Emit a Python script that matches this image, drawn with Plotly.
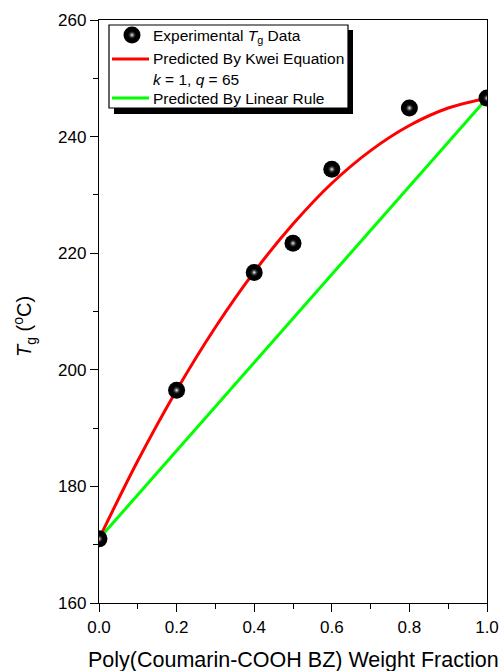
import plotly.graph_objects as go

# ---- data ----
exp_w = [0.0, 0.2, 0.4, 0.5, 0.6, 0.8, 1.0]
exp_tg = [171.0, 196.5, 216.7, 221.7, 234.4, 244.9, 246.6]

kwei_w = [0.0, 0.1, 0.2, 0.3, 0.4, 0.5, 0.6, 0.7, 0.8, 0.9, 1.0]
kwei_tg = [171.0, 184.4, 196.5, 207.3, 216.8, 225.0, 232.0, 237.6, 241.9, 244.9, 246.6]

lin_w = [0.0, 1.0]
lin_tg = [171.0, 246.6]

x_ticks = [0.0, 0.2, 0.4, 0.6, 0.8, 1.0]
y_ticks = [160, 180, 200, 220, 240, 260]

W, H = 502, 671
L, R, T, B = 99, 15, 20, 68
PW, PH = W - L - R, H - T - B

FONT = "Liberation Sans, Arial, sans-serif"

def px(x):
    return (x - L) / PW

def py(y):
    return (H - B - y) / PH

fig = go.Figure()

fig.add_trace(go.Scatter(x=lin_w, y=lin_tg, mode="lines",
                         line=dict(color="#00ff00", width=3), showlegend=False))
fig.add_trace(go.Scatter(x=kwei_w, y=kwei_tg, mode="lines", line_shape="spline",
                         line=dict(color="#ff0000", width=3), showlegend=False))
fig.add_trace(go.Scatter(x=exp_w, y=exp_tg, mode="markers",
                         marker=dict(size=17, color="#000000", line=dict(width=0)),
                         showlegend=False))
fig.add_trace(go.Scatter(x=exp_w, y=exp_tg, mode="markers",
                         marker=dict(size=9, color="rgba(0,0,0,0)",
                                     gradient=dict(type="radial", color="#ffffff"),
                                     line=dict(width=0)),
                         showlegend=False))

# legend sample marker (pixel-coordinate overlay axes)
fig.add_trace(go.Scatter(x=[132], y=[35], mode="markers", xaxis="x2", yaxis="y2",
                         marker=dict(size=17, color="#000000", line=dict(width=0)),
                         showlegend=False, cliponaxis=False))
fig.add_trace(go.Scatter(x=[132], y=[35], mode="markers", xaxis="x2", yaxis="y2",
                         marker=dict(size=9, color="rgba(0,0,0,0)",
                                     gradient=dict(type="radial", color="#ffffff"),
                                     line=dict(width=0)),
                         showlegend=False, cliponaxis=False))

shapes = [
    dict(type="rect", xref="paper", yref="paper", x0=px(114), x1=px(353), y0=py(30), y1=py(114),
         fillcolor="black", line=dict(width=0), layer="below"),
    dict(type="rect", xref="paper", yref="paper", x0=px(109), x1=px(348), y0=py(25), y1=py(108),
         fillcolor="white", line=dict(color="black", width=1.2), layer="below"),
    dict(type="line", xref="paper", yref="paper", x0=px(112), x1=px(149), y0=py(59), y1=py(59),
         line=dict(color="#ff0000", width=3)),
    dict(type="line", xref="paper", yref="paper", x0=px(112), x1=px(149), y0=py(98), y1=py(98),
         line=dict(color="#00ff00", width=3)),
]

leg_font = dict(family=FONT, size=15.5, color="black")
annots = []
for txt, yy in [("Experimental <i>T</i><sub>g</sub> Data", 37),
                ("Predicted By Kwei Equation", 59),
                ("<i>k</i> = 1, <i>q</i> = 65", 79),
                ("Predicted By Linear Rule", 98)]:
    annots.append(dict(text=txt, xref="paper", yref="paper", x=px(151), y=py(yy),
                       xanchor="left", yanchor="middle", showarrow=False, font=leg_font))

# axis titles as annotations (placed as in the reference)
annots.append(dict(text="<i>T</i><sub>g</sub> (<sup>o</sup>C)", xref="paper", yref="paper",
                   x=px(24), y=py(327), xanchor="center", yanchor="middle",
                   textangle=-90, showarrow=False,
                   font=dict(family=FONT, size=20, color="black")))
annots.append(dict(text="Poly(Coumarin-COOH BZ) Weight Fraction", xref="paper", yref="paper",
                   x=px(293), y=py(660), xanchor="center", yanchor="middle",
                   showarrow=False,
                   font=dict(family=FONT, size=21.5, color="black")))

axis_common = dict(showline=True, linecolor="black", linewidth=1.3, mirror=True,
                   ticks="outside", ticklen=8, tickwidth=1.3, tickcolor="black",
                   showgrid=False, zeroline=False, automargin=False,
                   tickfont=dict(family=FONT, size=17, color="black"))

fig.update_layout(
    width=W, height=H,
    margin=dict(l=L, r=R, t=T, b=B, pad=0),
    plot_bgcolor="white", paper_bgcolor="white",
    shapes=shapes, annotations=annots,
    xaxis=dict(range=[0, 1], tickvals=x_ticks, tickformat=".1f",
               minor=dict(dtick=0.1, ticks="outside", ticklen=5, tickcolor="black", tickwidth=1.3),
               **axis_common),
    yaxis=dict(range=[160, 260], tickvals=y_ticks,
               minor=dict(dtick=10, ticks="outside", ticklen=5, tickcolor="black", tickwidth=1.3),
               **axis_common),
    xaxis2=dict(range=[L, W - R], overlaying="x", visible=False, fixedrange=True),
    yaxis2=dict(range=[H - B, T], overlaying="y", visible=False, fixedrange=True),
    showlegend=False,
)

fig.write_html("out.html")
